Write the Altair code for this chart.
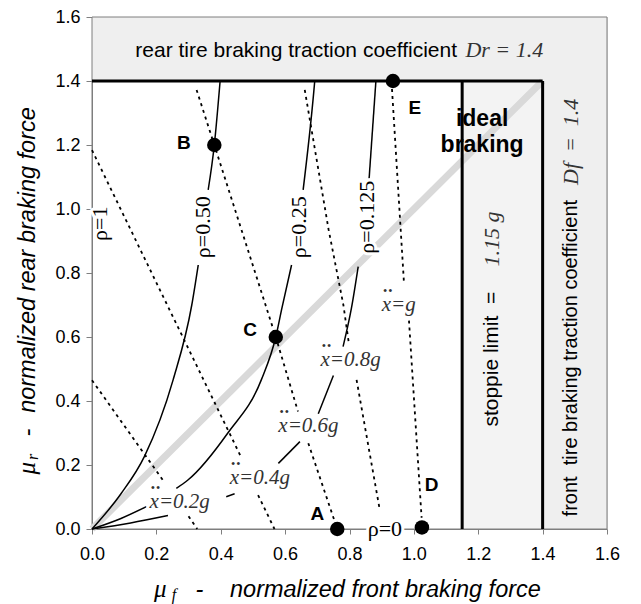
import altair as alt
import pandas as pd

# ---------------- values ----------------
TICKS = [0.0, 0.2, 0.4, 0.6, 0.8, 1.0, 1.2, 1.4, 1.6]
AX_MAX = 1.6
DR = 1.4        # rear tire braking traction coefficient
DF = 1.4        # front tire braking traction coefficient
STOPPIE = 1.15  # stoppie limit

# constant-rho curves (solid); each inner list is one visible piece
RHO_050 = [[(0, 0), (0.09, 0.11), (0.163, 0.227), (0.252, 0.466), (0.31, 0.70), (0.33, 0.825)],
           [(0.361, 1.06), (0.38, 1.2), (0.398, 1.4)]]
RHO_025 = [[(0, 0), (0.09, 0.033), (0.169, 0.07)],
           [(0.262, 0.127), (0.298, 0.153), (0.422, 0.30), (0.526, 0.466), (0.571, 0.6), (0.59, 0.69), (0.62, 0.825)],
           [(0.656, 1.06), (0.689, 1.366), (0.692, 1.4)]]
RHO_0125 = [[(0, 0), (0.12, 0.019), (0.236, 0.042)],
            [(0.417, 0.101), (0.443, 0.11)],
            [(0.579, 0.205), (0.646, 0.273)],
            [(0.703, 0.36), (0.75, 0.48)],
            [(0.78, 0.57), (0.806, 0.69), (0.827, 0.82)],
            [(0.861, 1.096), (0.882, 1.4)]]

# constant-deceleration lines (dotted)
DEC_02 = [[(0, 0.465), (0.22, 0.153)], [(0.30, 0.04), (0.327, 0.0)]]
DEC_04 = [[(0, 1.184), (0.464, 0.223)], [(0.516, 0.106), (0.567, 0.0)]]
DEC_06 = [[(0.325, 1.372), (0.38, 1.2), (0.571, 0.6), (0.64, 0.367)], [(0.672, 0.268), (0.762, 0.0)]]
DEC_08 = [[(0.661, 1.372), (0.735, 0.936), (0.781, 0.70), (0.798, 0.58)], [(0.822, 0.466), (0.894, 0.06)]]
DEC_10 = [[(0.932, 1.375), (0.969, 0.773)], [(0.982, 0.695), (1.024, 0.035)]]

IDEAL = [(0, 0), (DF, DR)]

POINT_NAMES = ["A", "B", "C", "D", "E"]
POINT_MUF = [0.762, 0.38, 0.571, 1.025, 0.935]
POINT_MUR = [0.0, 1.2, 0.6, 0.005, 1.4]
POINT_LBL_X = [0.70, 0.285, 0.491, 1.055, 1.003]
POINT_LBL_Y = [0.048, 1.207, 0.621, 0.137, 1.317]

RHO_TEXT = ["ρ=0.50", "ρ=0.25", "ρ=0.125", "ρ=1"]
RHO_X = [0.345, 0.643, 0.853, 0.025]
RHO_Y = [0.943, 0.943, 0.974, 0.954]
RHO0_TEXT = ["ρ=0"]
RHO0_X = [0.91]
RHO0_Y = [0.0]

XG_TEXT = ["x=0.2g", "x=0.4g", "x=0.6g", "x=0.8g", "x=g"]
XG_X = [0.179, 0.428, 0.579, 0.71, 0.90]
XG_Y = [0.066, 0.142, 0.302, 0.508, 0.68]

NB = "\u00a0"
TOP_TEXT = "rear tire braking traction coefficient"
TOP_SYM = "Dr = 1.4"
RIGHT_TEXT = "front" + NB + NB + "tire braking traction coefficient"
RIGHT_SYM = "Df" + NB + NB + "=" + NB + NB + "1.4"
STOP_TEXT = "stoppie limit" + NB + NB + "="
STOP_SYM = "1.15 g"
IDEAL_TEXT = ["ideal", "braking"]
XTITLE = "normalized front braking force"
YTITLE = "normalized rear braking force"

SANS = "Liberation Sans"
SERIF = "Liberation Serif"
GRAY = "#7f7f7f"

# ---------------- scales / axes ----------------
XS = alt.Scale(domain=[0, AX_MAX], nice=False, zero=False)
YS = alt.Scale(domain=[0, AX_MAX], nice=False, zero=False)
XA = alt.Axis(values=TICKS, format=".1f", title=None, grid=False, domainColor=GRAY,
              tickColor=GRAY, tickSize=5, labelFont=SANS, labelFontSize=18,
              labelColor="black", labelPadding=11, labelFlush=False, labelOverlap=False)
YA = alt.Axis(values=TICKS, format=".1f", title=None, grid=False, domainColor=GRAY,
              tickColor=GRAY, tickSize=6, labelFont=SANS, labelFontSize=18,
              labelColor="black", labelPadding=6, labelFlush=False, labelOverlap=False)


def X(f):
    return alt.X(f"{f}:Q", scale=XS, axis=XA)


def Y(f):
    return alt.Y(f"{f}:Q", scale=YS, axis=YA)


def seg_df(name, segments):
    rows = []
    for si, seg in enumerate(segments):
        for oi, (f, r) in enumerate(seg):
            rows.append({"seg": f"{name}_{si}", "o": oi, "x": f, "y": r})
    return pd.DataFrame(rows)


def txt(df, **props):
    return alt.Chart(df).mark_text(**props).encode(x=X("x"), y=Y("y"), text="t:N")


def tdf(texts, xs, ys):
    return pd.DataFrame({"t": texts, "x": xs, "y": ys})


# ---------------- layers ----------------
bands = pd.DataFrame({
    "x": [0, DF, STOPPIE], "x2": [AX_MAX, AX_MAX, DF],
    "y": [DR, 0, 0], "y2": [AX_MAX, DR, DR],
    "c": ["#efefef", "#efefef", "#f3f3f3"],
})
band_layer = alt.Chart(bands).mark_rect().encode(
    x=X("x"), x2="x2:Q", y=Y("y"), y2="y2:Q",
    fill=alt.Fill("c:N", scale=None))

frame = alt.Chart(pd.DataFrame({"x": [0], "x2": [AX_MAX], "y": [0], "y2": [AX_MAX]})).mark_rect(
    fillOpacity=0, stroke=GRAY, strokeWidth=1).encode(x=X("x"), x2="x2:Q", y=Y("y"), y2="y2:Q")

diag = alt.Chart(seg_df("ideal", [IDEAL])).mark_line(color="#d9d9d9", strokeWidth=7).encode(
    x=X("x"), y=Y("y"), detail="seg:N", order="o:Q")

dec_df = pd.concat([seg_df("d02", DEC_02), seg_df("d04", DEC_04), seg_df("d06", DEC_06),
                    seg_df("d08", DEC_08), seg_df("d10", DEC_10)])
dec = alt.Chart(dec_df).mark_line(color="black", strokeWidth=1.8, strokeDash=[3, 4]).encode(
    x=X("x"), y=Y("y"), detail="seg:N", order="o:Q")

rho_df = pd.concat([seg_df("r050", RHO_050), seg_df("r025", RHO_025), seg_df("r0125", RHO_0125)])
rho = alt.Chart(rho_df).mark_line(color="black", strokeWidth=1.5, interpolate="monotone").encode(
    x=X("x"), y=Y("y"), detail="seg:N", order="o:Q")

bounds = pd.DataFrame({"x": [0, DF, STOPPIE], "x2": [DF, DF, STOPPIE],
                       "y": [DR, 0, 0], "y2": [DR, DR, DR]})
bound_layer = alt.Chart(bounds).mark_rule(color="black", strokeWidth=3).encode(
    x=X("x"), x2="x2:Q", y=Y("y"), y2="y2:Q")

rho_t = tdf(RHO_TEXT, RHO_X, RHO_Y)
rho0_t = tdf(RHO0_TEXT, RHO0_X, RHO0_Y)
xg_t = tdf(XG_TEXT, XG_X, XG_Y)
dots_t = tdf(["¨"] * len(XG_TEXT), XG_X, XG_Y)

halo = dict(color="white", stroke="white", strokeWidth=6, strokeJoin="round")
rho_style = dict(font=SERIF, fontSize=22, align="center", baseline="middle")
xg_style = dict(font=SERIF, fontSize=21, fontStyle="italic", align="left", baseline="alphabetic")
dot_style = dict(font=SERIF, fontSize=30, align="center", baseline="alphabetic", dx=6, dy=-3)

halos = [
    txt(rho_t, angle=270, **rho_style, **halo),
    txt(rho0_t, **rho_style, **halo),
    txt(xg_t, **xg_style, **halo),
    txt(dots_t, **dot_style, **halo),
]
labels = [
    txt(rho_t, angle=270, color="black", **rho_style),
    txt(rho0_t, color="black", **rho_style),
    txt(xg_t, color="#333333", **xg_style),
    txt(dots_t, color="#333333", **dot_style),
]

pts = alt.Chart(pd.DataFrame({"x": POINT_MUF, "y": POINT_MUR})).mark_point(
    filled=True, size=210, color="black", opacity=1).encode(x=X("x"), y=Y("y"))
pt_lbl = txt(tdf(POINT_NAMES, POINT_LBL_X, POINT_LBL_Y), font=SANS, fontSize=19,
             fontWeight="bold", color="black", align="center", baseline="middle")

band_texts = [
    txt(tdf([TOP_TEXT], [0.1345], [1.476]), font=SANS, fontSize=21, color="black",
        align="left", baseline="alphabetic"),
    txt(tdf([TOP_SYM], [1.16], [1.476]), font=SERIF, fontSize=22, fontStyle="italic",
        color="#333333", align="left", baseline="alphabetic"),
    txt(tdf([RIGHT_TEXT], [1.488], [0.0394]), font=SANS, fontSize=20, color="black",
        angle=270, align="left", baseline="middle"),
    txt(tdf([RIGHT_SYM], [1.488], [1.075]), font=SERIF, fontSize=22, fontStyle="italic",
        color="#333333", angle=270, align="left", baseline="middle"),
    txt(tdf([STOP_TEXT], [1.244], [0.32]), font=SANS, fontSize=21, color="black",
        angle=270, align="left", baseline="middle"),
    txt(tdf([STOP_SYM], [1.244], [0.82]), font=SERIF, fontSize=22, fontStyle="italic",
        color="#333333", angle=270, align="left", baseline="middle"),
    txt(tdf(IDEAL_TEXT, [1.212, 1.212], [1.258, 1.179]), font=SANS, fontSize=23,
        fontWeight="bold", color="black", align="center", baseline="alphabetic"),
]

titles = [
    txt(tdf([XTITLE], [0.4287], [-0.2125]), font=SANS, fontSize=23.5, fontStyle="italic",
        color="black", align="left", baseline="alphabetic"),
    txt(tdf(["-"], [0.334], [-0.2125]), font=SANS, fontSize=23.5, fontStyle="italic",
        color="black", align="center", baseline="alphabetic"),
    txt(tdf(["μ"], [0.2121], [-0.2125]), font=SERIF, fontSize=25, fontStyle="italic",
        color="black", align="center", baseline="alphabetic"),
    txt(tdf(["f"], [0.2547], [-0.222]), font=SERIF, fontSize=16, fontStyle="italic",
        color="black", align="center", baseline="alphabetic"),
    txt(tdf([YTITLE], [-0.177], [0.363]), font=SANS, fontSize=23.5, fontStyle="italic",
        color="black", angle=270, align="left", baseline="alphabetic"),
    txt(tdf(["-"], [-0.177], [0.301]), font=SANS, fontSize=23.5, fontStyle="italic",
        color="black", angle=270, align="center", baseline="alphabetic"),
    txt(tdf(["μ"], [-0.177], [0.19]), font=SERIF, fontSize=25, fontStyle="italic",
        color="black", angle=270, align="center", baseline="alphabetic"),
    txt(tdf(["r"], [-0.167], [0.225]), font=SERIF, fontSize=16, fontStyle="italic",
        color="black", angle=270, align="center", baseline="alphabetic"),
]

chart = alt.layer(
    band_layer, frame, diag, dec, rho, bound_layer,
    *halos, *labels, pts, pt_lbl, *band_texts, *titles,
).properties(
    width=515, height=512,
    autosize=alt.AutoSizeParams(type="none"),
    padding={"left": 92, "top": 17, "right": 34, "bottom": 75},
).configure_view(stroke=None).configure(background="white")

chart.save("out.html", embed_options={"renderer": "svg", "actions": False})
